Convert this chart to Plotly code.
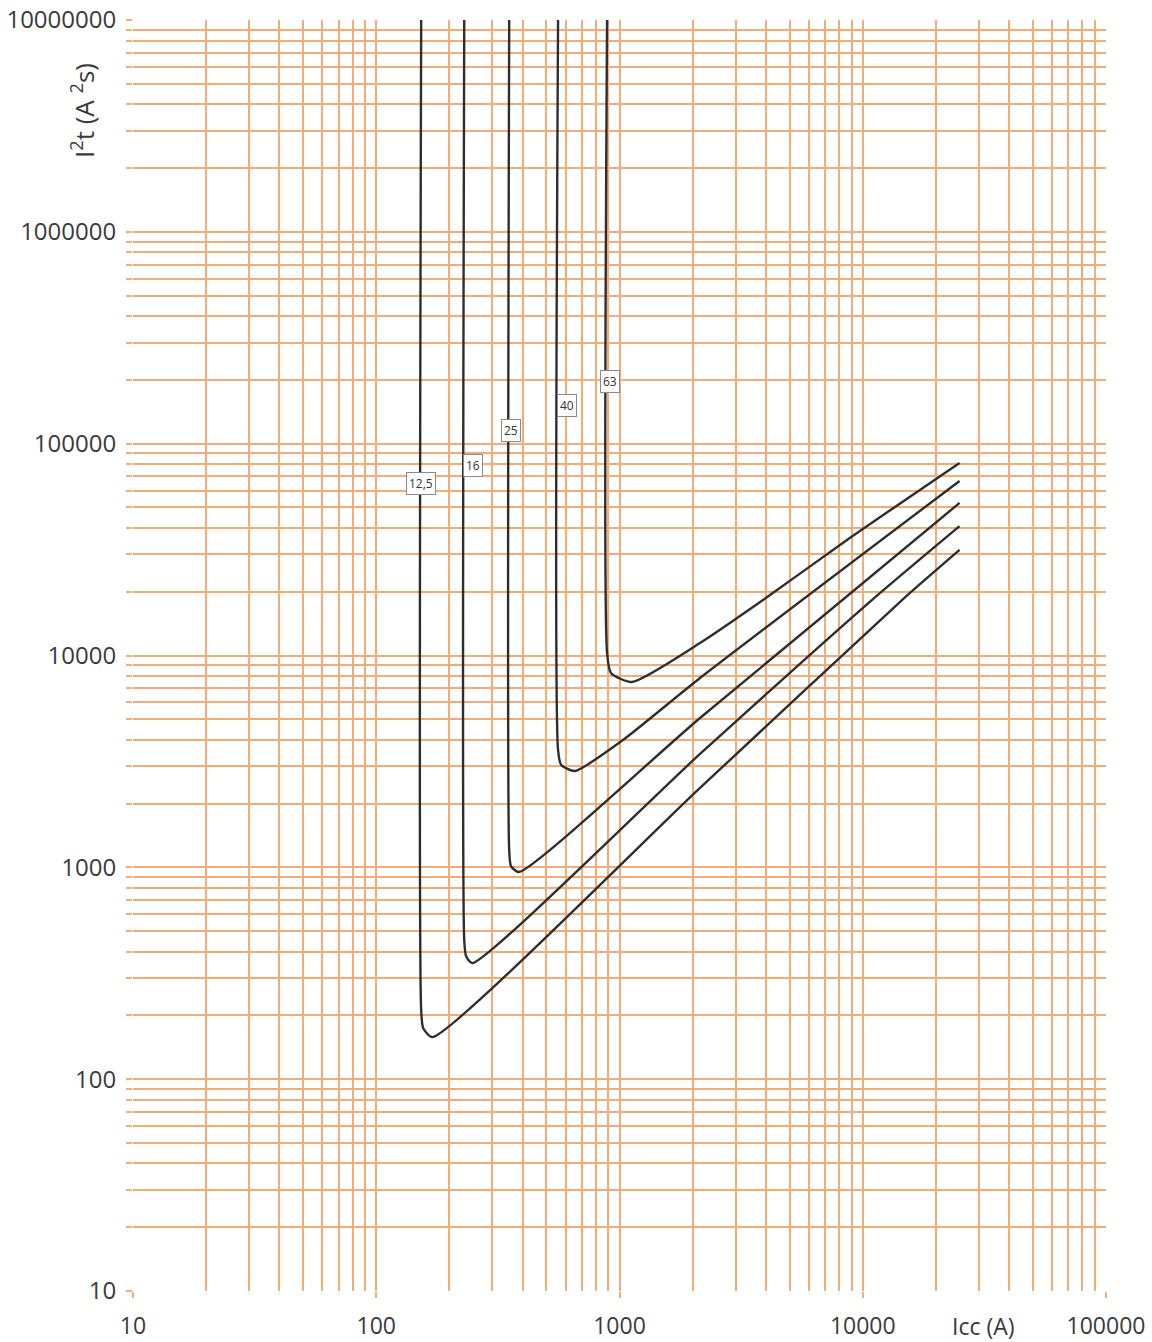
import math
import plotly.graph_objects as go

# ---- data (Icc in A, I2t in A2s) ----
x_12_5 = [153, 153, 156, 170, 2143, 14500, 25000]
y_12_5 = [1e7, 212, 174, 158, 2370, 18270, 31500]

x_16 = [230, 230, 234, 248, 2143, 10900, 25000]
y_16 = [1e7, 454, 381, 353, 3430, 18270, 40800]

x_25 = [352, 352, 358, 386, 2143, 25000]
y_25 = [1e7, 1207, 1014, 951, 5070, 52500]

x_40 = [559, 559, 576, 656, 1033, 2143, 25000]
y_40 = [1e7, 3580, 3040, 2851, 3990, 7830, 66700]

x_63 = [889, 889, 922, 1125, 2143, 3890, 8610, 25000]
y_63 = [1e7, 10280, 8270, 7500, 11450, 18270, 35100, 81100]

curve_names = ["12,5", "16", "25", "40", "63"]
label_x = [153, 250, 358, 608, 914]
label_y = [65200, 79300, 116000, 152200, 195500]

x_major = [10, 100, 1000, 10000, 100000]
x_major_text = ["10", "100", "1000", "10000", "100000"]
y_major = [10, 100, 1000, 10000, 100000, 1000000, 10000000]
y_major_text = ["10", "100", "1000", "10000", "100000", "1000000", "10000000"]
minor_digits = [2, 3, 4, 5, 6, 7, 8, 9]

x_title = "Icc (A)"
y_title = "I<sup>2</sup>t (A <sup>2</sup>s)"

# ---- figure ----
grid_col = "rgb(244,172,118)"
curve_col = "#2e2e2e"
font_fam = "Open Sans"
lab_col = "#3a3a3a"

W, H = 1152, 1342
L, T, R, B = 133, 20, 46, 51
pw, ph = W - L - R, H - T - B

x_minor = [d * m for m in x_major[:-1] for d in minor_digits]
y_minor = [d * m for m in y_major[:-1] for d in minor_digits]

fig = go.Figure()
series = [(x_12_5, y_12_5), (x_16, y_16), (x_25, y_25), (x_40, y_40), (x_63, y_63)]
for (xs, ys), nm in zip(series, curve_names):
    fig.add_trace(go.Scatter(x=xs, y=ys, mode="lines", name=nm,
                             line=dict(color=curve_col, width=2.4, shape="spline", smoothing=0.6),
                             showlegend=False, hoverinfo="skip"))

for nm, lx, ly in zip(curve_names, label_x, label_y):
    fig.add_annotation(x=math.log10(lx), y=math.log10(ly), xref="x", yref="y", text=nm,
                       showarrow=False,
                       font=dict(family=font_fam, size=12, color="#333333"),
                       bgcolor="white", bordercolor="#8a8a8a", borderwidth=1, borderpad=2,
                       xanchor="center", yanchor="middle")

# axis titles (page coords converted to paper fractions)
fig.add_annotation(x=(983 - L) / pw, y=-(1326 - 1291) / ph, xref="paper", yref="paper",
                   text=x_title, showarrow=False, xanchor="center", yanchor="middle",
                   font=dict(family=font_fam, size=23, color=lab_col))
fig.add_annotation(x=(83 - L) / pw, y=1 - (111 - 20) / ph, xref="paper", yref="paper",
                   text=y_title, showarrow=False, textangle=-90, xanchor="center", yanchor="middle",
                   font=dict(family=font_fam, size=26, color=lab_col))

fig.update_xaxes(type="log", range=[1, 5], tickvals=x_major, ticktext=x_major_text,
                 showgrid=True, gridcolor=grid_col, gridwidth=1.5,
                 ticks="outside", ticklen=6, tickcolor=grid_col, tickwidth=1.5,
                 ticklabelstandoff=8,
                 minor=dict(tickvals=x_minor, showgrid=True, gridcolor=grid_col, gridwidth=1.5, ticks=""),
                 showline=False, zeroline=False, automargin=False,
                 tickfont=dict(family=font_fam, size=23, color=lab_col))
fig.update_yaxes(type="log", range=[1, 7], tickvals=y_major, ticktext=y_major_text,
                 showgrid=True, gridcolor=grid_col, gridwidth=1.5,
                 ticks="outside", ticklen=6, tickcolor=grid_col, tickwidth=1.5,
                 ticklabelstandoff=5,
                 minor=dict(tickvals=y_minor, showgrid=True, gridcolor=grid_col, gridwidth=1.5,
                            ticks="outside", ticklen=6, tickcolor=grid_col, tickwidth=1.5),
                 showline=False, zeroline=False, automargin=False,
                 tickfont=dict(family=font_fam, size=24, color=lab_col))

fig.update_layout(width=W, height=H, template="none",
                  margin=dict(l=L, r=R, t=T, b=B, autoexpand=False),
                  paper_bgcolor="white", plot_bgcolor="white", showlegend=False)

# remove the default 8px page margin so the figure sits at the window origin
fig.write_html("out.html", config={"displayModeBar": False},
               post_script="document.body.style.margin='0';document.body.style.overflow='hidden';")
